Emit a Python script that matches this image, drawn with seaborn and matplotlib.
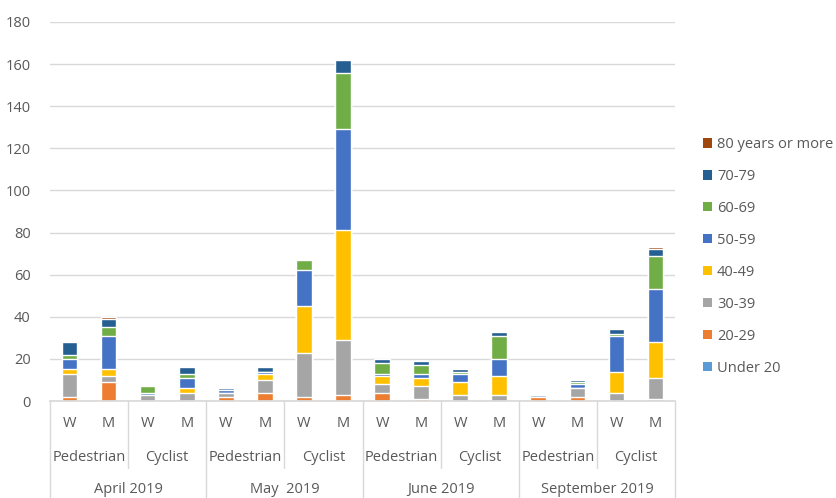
import pandas as pd
import matplotlib.pyplot as plt
import seaborn as sns
from matplotlib.patches import Patch
from matplotlib.lines import Line2D
from matplotlib.transforms import blended_transform_factory

# Chart data
months = ["April 2019", "May  2019", "June 2019", "September 2019"]
road_users = ["Pedestrian", "Cyclist"]
sexes = ["W", "M"]

age_groups = ["Under 20", "20-29", "30-39", "40-49", "50-59", "60-69", "70-79", "80 years or more"]
age_colors = ["#5B9BD5", "#ED7D31", "#A5A5A5", "#FFC000", "#4472C4", "#70AD47", "#255E91", "#9E480E"]

# one value per bar: month -> road user -> sex
under_20 = [0, 0, 0, 0, 0, 0, 0, 0, 0, 0, 0, 0, 0, 0, 0, 0]
age_20_29 = [2, 9, 0, 0, 2, 4, 2, 3, 4, 1, 0, 0, 2, 2, 0, 1]
age_30_39 = [11, 3, 3, 4, 2, 6, 21, 26, 4, 6, 3, 3, 0, 4, 4, 10]
age_40_49 = [2, 3, 0, 2, 0, 3, 22, 52, 4, 4, 6, 9, 0, 0, 10, 17]
age_50_59 = [5, 16, 1, 5, 1, 1, 17, 48, 1, 2, 4, 8, 0, 2, 17, 25]
age_60_69 = [2, 4, 3, 2, 0, 0, 5, 27, 5, 4, 1, 11, 0, 1, 1, 16]
age_70_79 = [6, 4, 0, 3, 1, 2, 0, 6, 2, 2, 1, 2, 1, 1, 2, 3]
age_80_plus = [0, 1, 0, 0, 0, 0, 0, 0, 0, 0, 0, 0, 0, 0, 0, 1]

series = [under_20, age_20_29, age_30_39, age_40_49, age_50_59, age_60_69, age_70_79, age_80_plus]

# Build the long table
bar_ids = [f"{m}|{u}|{s}" for m in months for u in road_users for s in sexes]
df = pd.DataFrame({g: v for g, v in zip(age_groups, series)}, index=bar_ids)
cum = df.cumsum(axis=1)

sns.set_theme(style="white")
plt.rcParams["font.family"] = ["Open Sans", "DejaVu Sans"]
text_color = "#595959"
grid_color = "#D9D9D9"

W, H = 836, 498
fig = plt.figure(figsize=(W / 100, H / 100), dpi=100)
ax = fig.add_axes([50 / W, 1 - 401 / H, 625 / W, 379 / H])

# Stacked bars: draw cumulative totals from the top layer down
for group, color in reversed(list(zip(age_groups, age_colors))):
    layer = pd.DataFrame({"bar": bar_ids, "value": cum[group].values})
    sns.barplot(data=layer, x="bar", y="value", order=bar_ids, color=color,
                width=0.4, errorbar=None, saturation=1, ax=ax)

ax.set_xlim(-0.5, len(bar_ids) - 0.5)
ax.set_ylim(0, 180)
ax.set_yticks(range(0, 181, 20))
ax.yaxis.grid(True, color=grid_color, linewidth=1)
ax.set_axisbelow(True)
for side in ["top", "right", "left"]:
    ax.spines[side].set_visible(False)
ax.spines["bottom"].set_color(grid_color)
ax.set_xticks([])
ax.set_xlabel("")
ax.set_ylabel("")
ax.tick_params(axis="y", length=0, labelsize=10.5, labelcolor=text_color, pad=14)

# Multi-level category labels
fs = 10.5
trans = blended_transform_factory(ax.transData, fig.transFigure)
for i, bid in enumerate(bar_ids):
    ax.text(i, 1 - 423 / H, bid.split("|")[2], transform=trans, ha="center",
            va="center", fontsize=fs, color=text_color)
for j in range(len(months) * len(road_users)):
    ax.text(2 * j + 0.5, 1 - 457 / H, road_users[j % 2], transform=trans,
            ha="center", va="center", fontsize=fs, color=text_color)
for k, m in enumerate(months):
    ax.text(4 * k + 1.5, 1 - 489 / H, m, transform=trans, ha="center",
            va="center", fontsize=fs, color=text_color)

# separators between the label groups
for k in range(len(months) + 1):
    ax.add_line(Line2D([4 * k - 0.5] * 2, [1 - 401 / H, 0], transform=trans,
                       color=grid_color, linewidth=1, clip_on=False))
for k in range(len(months)):
    ax.add_line(Line2D([4 * k + 1.5] * 2, [1 - 401 / H, 1 - 468 / H], transform=trans,
                       color=grid_color, linewidth=1, clip_on=False))

# Legend, top entry is the oldest group
handles = [Patch(facecolor=c, edgecolor="none") for c in reversed(age_colors)]
fig.legend(handles, list(reversed(age_groups)), loc="upper left",
           bbox_to_anchor=(690 / W, 1 - 124 / H), frameon=False, fontsize=10.5,
           handlelength=0.6, handleheight=0.6, handletextpad=0.35,
           labelspacing=1.16, labelcolor=text_color)

fig.savefig("out.png", dpi=100)
